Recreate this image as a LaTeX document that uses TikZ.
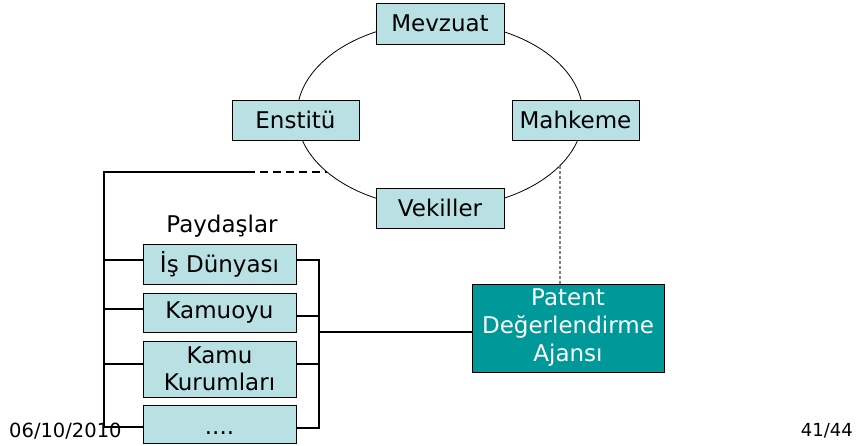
\documentclass[tikz,border=0pt]{standalone}
\usepackage{fontspec}
\setmainfont{DejaVu Sans}
\definecolor{boxblue}{RGB}{185,224,227}
\definecolor{teal2}{RGB}{0,153,153}
\begin{document}
\begin{tikzpicture}[x=1pt,y=1pt,
  bx/.style={draw=black,line width=0.9pt,fill=boxblue,rectangle,inner sep=0pt,
    font=\fontsize{23}{28}\selectfont,align=center},
  conn/.style={draw=black,line width=1.1pt},
  lbl/.style={inner sep=0pt}]
\useasboundingbox (0,0) rectangle (858,-446);
% ellipse
\draw[line width=0.8pt] (440,-115) ellipse [x radius=143, y radius=93];
\coordinate (ew) at (327,-172);
\coordinate (es) at (560,-166);
% boxes
\node[bx,minimum width=128,minimum height=41] (mev) at (440,-23.5) {Mevzuat};
\node[bx,minimum width=127,minimum height=40] (ens) at (295.5,-120) {Enstitü};
\node[bx,minimum width=127,minimum height=40] (mah) at (575.5,-120) {Mahkeme};
\node[bx,minimum width=128,minimum height=40] (vek) at (440,-208) {Vekiller};
\node[lbl,font=\fontsize{23}{28}\selectfont] (pay) at (222,-226) {Paydaşlar};
\node[bx,minimum width=153,minimum height=40] (is) at (219.5,-264) {İş Dünyası};
\node[bx,minimum width=153,minimum height=39] (kam) at (219.5,-312.5) {Kamuoyu};
\node[bx,minimum width=153,minimum height=56] (kk) at (219.5,-369) {Kamu\\[-1pt]Kurumları};
\node[bx,minimum width=153,minimum height=38] (dots) at (219.5,-424) {\rule{0pt}{20pt}....};
\node[bx,fill=teal2,text=white,minimum width=192,minimum height=88] (pda) at (568,-328) {Patent\\Değerlendirme\\Ajansı};
% footer
\node[lbl,font=\fontsize{19.5}{22}\selectfont,anchor=west] (date) at (9,-431) {06/10/2010};
\node[lbl,font=\fontsize{18}{20}\selectfont,anchor=east] (page) at (853,-431) {41/44};
% left bus
\coordinate (ltop) at (104,-172);
\coordinate (lsw) at (247,-172);
\coordinate (lbot) at (104,-427);
\draw[conn] (lsw) -- (ltop) -- (lbot) -- (lbot -| dots.west);
\draw[conn,dash pattern=on 8pt off 5pt] (lsw) -- (ew);
\draw[conn] (104,-260) -- (is.west |- 0,-260);
\draw[conn] (104,-309) -- (kam.west |- 0,-309);
\draw[conn] (104,-364) -- (kk.west |- 0,-364);
% right bus
\coordinate (rtop) at (319,-260);
\coordinate (rbot) at (319,-428);
\draw[conn] (is.east |- rtop) -- (rtop) -- (rbot) -- (rbot -| dots.east);
\draw[conn] (kam.east |- 0,-316) -- (319,-316);
\draw[conn] (kk.east |- 0,-364) -- (319,-364);
\coordinate (bus) at (319,-332);
\draw[conn] (bus) -- (bus -| pda.west);
% dotted to Mahkeme side
\draw[line width=1.1pt,gray,dash pattern=on 3pt off 2pt] (es) -- (es |- pda.north);
\end{tikzpicture}
\end{document}
